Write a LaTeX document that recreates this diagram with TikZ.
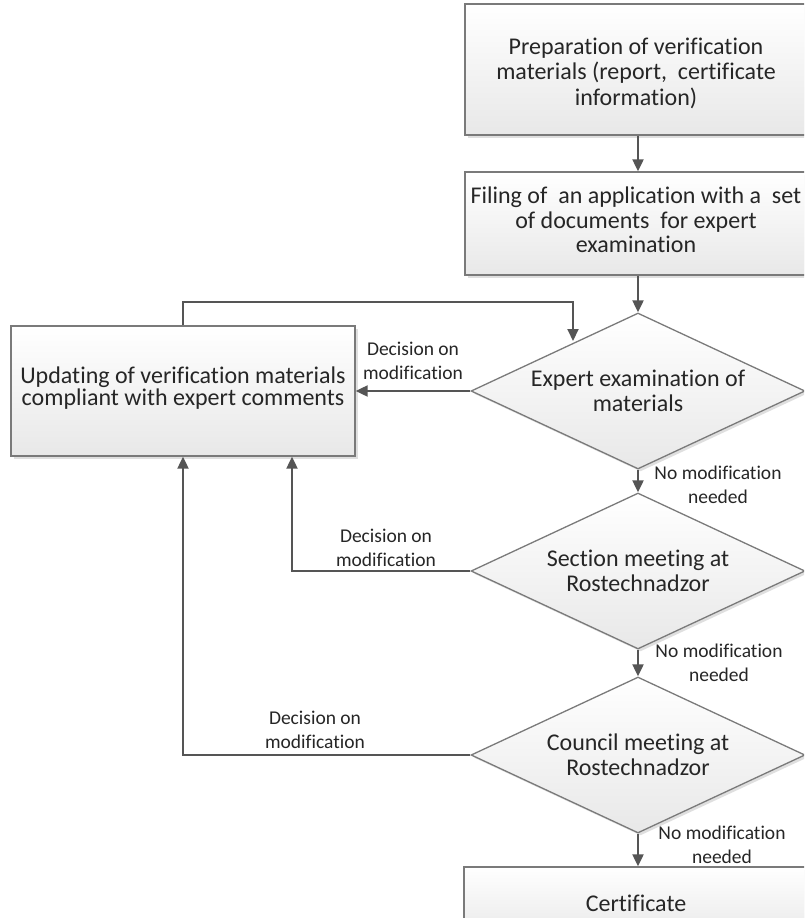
\documentclass[tikz,border=0pt]{standalone}
\usepackage{fontspec}
\setmainfont{Carlito}[Ligatures={NoCommon,NoRare,NoContextual}]
\usetikzlibrary{shapes.geometric,arrows.meta,shadows}
\definecolor{txt}{HTML}{262626}
\definecolor{ln}{HTML}{555555}
\definecolor{bd}{HTML}{7A7A7A}
\definecolor{fillb}{HTML}{E8E8E8}
\begin{document}
\begin{tikzpicture}[x=1pt,y=-1pt,
  shapebase/.style={draw=bd, line width=1.3pt, top color=white, bottom color=fillb,
    drop shadow={shadow xshift=2.5pt,shadow yshift=-2.5pt,opacity=0.25},
    align=center, text=txt, font=\fontsize{24}{25}\selectfont, inner sep=0pt},
  procbox/.style={shapebase, rectangle},
  decbox/.style={shapebase, diamond, aspect=2.14, minimum width=334pt, minimum height=156pt},
  boxtext/.style={align=center, text=txt, inner sep=0pt},
  lab/.style={align=center, text=txt, font=\fontsize{19.5}{24}\selectfont, inner sep=0pt},
  arr/.style={draw=ln, line width=2pt, -{Triangle[length=12pt,width=11pt]}}]
\useasboundingbox (0,0) rectangle (804,918);
\clip (0,0) rectangle (804,918);
\fill[white] (0,0) rectangle (804,918);

\node[procbox, minimum width=346pt, minimum height=131pt] (prep) at (638,69.5) {};
\node[boxtext, font=\fontsize{24}{25.5}\selectfont] (prept) at (636,73)
  {Preparation of verification\\materials (report,\ \ certificate\\information)};
\node[procbox, minimum width=346pt, minimum height=103pt] (fil) at (638,223.5) {};
\node[boxtext, font=\fontsize{24}{24.5}\selectfont] (filt) at (636,220)
  {Filing of\ \ an application with a\ \ set\\of documents\ \ for expert\\examination};
\node[procbox, minimum width=344pt, minimum height=130pt] (upd) at (183,391) {};
\node[boxtext, font=\fontsize{24}{22}\selectfont] (updt) at (183,388)
  {Updating of verification materials\\compliant with expert comments};
\node[decbox] (exp) at (638,391) {Expert examination of\\materials};
\node[decbox] (sec) at (638,571) {Section meeting at\\Rostechnadzor};
\node[decbox] (cou) at (638,755) {Council meeting at\\Rostechnadzor};
\node[procbox, minimum width=348pt, minimum height=72pt] (cert) at (638,903) {};
\node[boxtext, font=\fontsize{24}{25}\selectfont] (certt) at (636,903) {Certificate};

\coordinate (loopR) at (573,302);
\coordinate (loopE) at (573,341);

\draw[arr] (prep.south) -- (fil.north);
\draw[arr] (fil.south) -- (exp.north);
\draw[arr] (exp.south) -- (sec.north);
\draw[arr] (sec.south) -- (cou.north);
\draw[arr] (cou.south) -- (cert.north);
\draw[arr] (exp.west) -- (upd.east);
\draw[arr] (sec.west) -| ([xshift=109pt]upd.south);
\draw[arr] (cou.west) -| (upd.south);
\draw[arr] (upd.north) |- (loopR) -- (loopE);

\node[lab] (l1) at (413,361) {Decision on\\modification};
\node[lab] (l2) at (386,548) {Decision on\\modification};
\node[lab] (l3) at (315,730) {Decision on\\modification};
\node[lab] (n1) at (718,485) {No modification\\needed};
\node[lab] (n2) at (719,663) {No modification\\needed};
\node[lab] (n3) at (722,845) {No modification\\needed};
\end{tikzpicture}
\end{document}
